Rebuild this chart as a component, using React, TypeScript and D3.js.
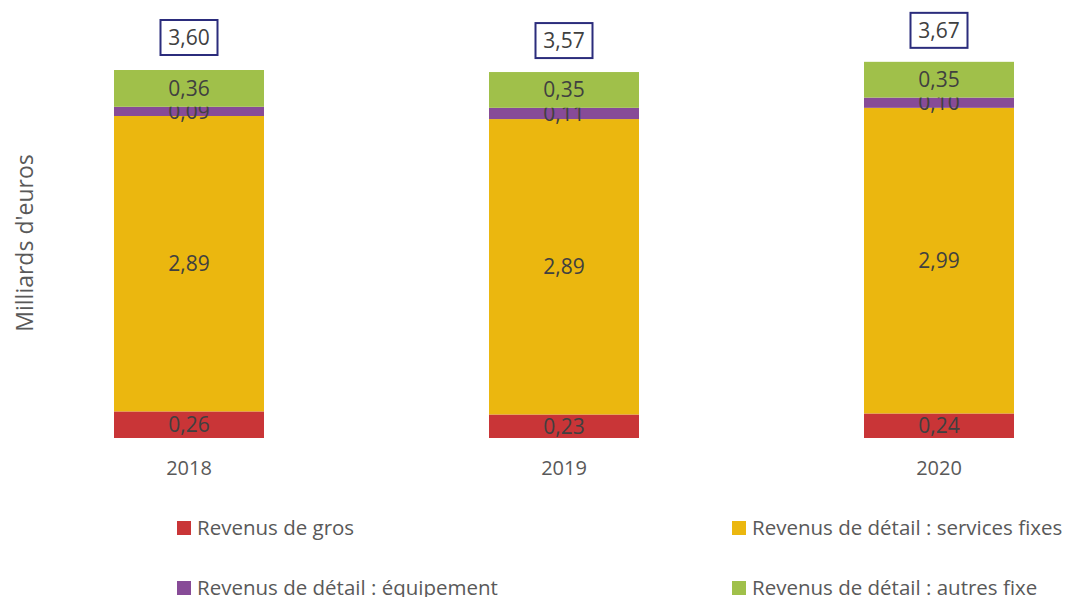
import { useEffect, useRef } from 'react'
import * as d3 from 'd3'

const years = ['2018', '2019', '2020']
const seriesNames = [
  'Revenus de gros',
  'Revenus de détail : services fixes',
  'Revenus de détail : équipement',
  'Revenus de détail : autres fixe',
]
const gros = [0.26, 0.23, 0.24]
const servicesFixes = [2.89, 2.89, 2.99]
const equipement = [0.09, 0.11, 0.1]
const autresFixe = [0.36, 0.35, 0.35]
const totals = [3.6, 3.57, 3.67]

const colors = ['#C93537', '#EBB70F', '#874B97', '#A0C04A']
const fmt = (v: number) => d3.format('.2f')(v).replace('.', ',')

const App = () => {
  const svgRef = useRef<SVGSVGElement>(null)

  useEffect(() => {
    if (!svgRef.current) return
    const width = 1073
    const height = 601
    const font = "'Open Sans', sans-serif"
    const textColor = '#595959'

    const svg = d3.select(svgRef.current)
    svg.selectAll('*').remove()
    svg.attr('width', width).attr('height', height)

    const keys = ['gros', 'services', 'equip', 'autres']
    const rows = years.map((y, i) => ({
      year: y,
      gros: gros[i],
      services: servicesFixes[i],
      equip: equipement[i],
      autres: autresFixe[i],
    }))
    const stacked = d3.stack<any>().keys(keys)(rows)

    const x = d3.scaleBand().domain(years).range([114, 1014]).paddingInner(0.6).paddingOuter(0)
    const y = d3.scaleLinear().domain([0, 3.6]).range([438, 70])

    // Segments
    stacked.forEach((layer, li) => {
      const g = svg.append('g')
      g.selectAll('rect')
        .data(layer)
        .enter()
        .append('rect')
        .attr('x', (d: any) => x(d.data.year)!)
        .attr('width', x.bandwidth())
        .attr('y', d => y(d[1]))
        .attr('height', d => y(d[0]) - y(d[1]))
        .attr('fill', colors[li])

      g.selectAll('text')
        .data(layer)
        .enter()
        .append('text')
        .attr('x', (d: any) => x(d.data.year)! + x.bandwidth() / 2)
        .attr('y', d => (y(d[0]) + y(d[1])) / 2)
        .attr('dy', '0.35em')
        .attr('text-anchor', 'middle')
        .attr('font-family', font)
        .attr('font-size', '21px')
        .attr('fill', '#404040')
        .text((d: any) => fmt(d[1] - d[0]))
    })

    // Total boxes
    const tot = svg.append('g')
    years.forEach((yr, i) => {
      const cx = x(yr)! + x.bandwidth() / 2
      tot.append('rect')
        .attr('x', cx - 28.5)
        .attr('y', y(totals[i]) - 50)
        .attr('width', 57)
        .attr('height', 35)
        .attr('fill', '#fff')
        .attr('stroke', '#2B2C7C')
        .attr('stroke-width', 2)
      tot.append('text')
        .attr('x', cx)
        .attr('y', y(totals[i]) - 32.5)
        .attr('dy', '0.35em')
        .attr('text-anchor', 'middle')
        .attr('font-family', font)
        .attr('font-size', '21px')
        .attr('fill', '#404040')
        .text(fmt(totals[i]))
    })

    // X axis labels
    svg.append('g')
      .selectAll('text')
      .data(years)
      .enter()
      .append('text')
      .attr('x', d => x(d)! + x.bandwidth() / 2)
      .attr('y', 468)
      .attr('dy', '0.35em')
      .attr('text-anchor', 'middle')
      .attr('font-family', font)
      .attr('font-size', '20px')
      .attr('fill', textColor)
      .text(d => d)

    // Y axis title
    svg.append('text')
      .attr('transform', 'translate(25,243) rotate(-90)')
      .attr('dy', '0.35em')
      .attr('text-anchor', 'middle')
      .attr('font-family', font)
      .attr('font-size', '23px')
      .attr('fill', textColor)
      .text("Milliards d'euros")

    // Legend
    const legendPos = [
      [177, 528],
      [732, 528],
      [177, 588],
      [732, 588],
    ]
    const legend = svg.append('g')
    seriesNames.forEach((name, i) => {
      const [lx, ly] = legendPos[i]
      legend.append('rect')
        .attr('x', lx)
        .attr('y', ly - 7)
        .attr('width', 14)
        .attr('height', 14)
        .attr('fill', colors[i])
      legend.append('text')
        .attr('x', lx + 20)
        .attr('y', ly)
        .attr('dy', '0.35em')
        .attr('font-family', font)
        .attr('font-size', '20.5px')
        .attr('fill', textColor)
        .text(name)
    })
  }, [])

  return (
    <div style={{ margin: '-8px' }}>
      <svg ref={svgRef}></svg>
    </div>
  )
}

export default App
